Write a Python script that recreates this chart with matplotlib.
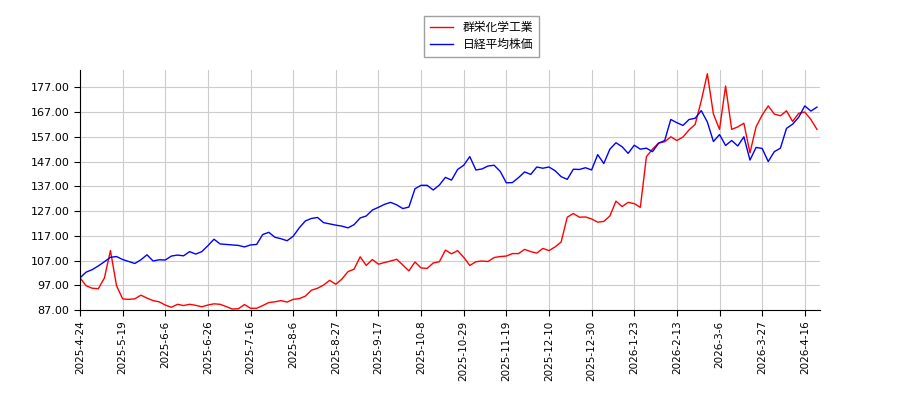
import matplotlib
matplotlib.use("Agg")
import matplotlib.pyplot as plt
import numpy as np

plt.rcParams['font.family'] = ['DejaVu Sans', 'Noto Sans CJK JP']

series_names = ["群栄化学工業", "日経平均株価"]

tick_labels = ["2025-4-24", "2025-5-19", "2025-6-6", "2025-6-26", "2025-7-16",
               "2025-8-6", "2025-8-27", "2025-9-17", "2025-10-8", "2025-10-29",
               "2025-11-19", "2025-12-10", "2025-12-30", "2026-1-23", "2026-2-13",
               "2026-3-6", "2026-3-27", "2026-4-16"]
tick_step = 14      # trading days between labelled ticks
sample_step = 2     # trading days between stored values
n_days = 244

gunei = [100.0, 96.8, 95.8, 95.6, 99.9, 111.0, 96.8, 91.5, 91.3, 91.5,
         93.0, 91.8, 90.8, 90.3, 89.0, 88.1, 89.3, 88.8, 89.3, 88.9,
         88.3, 89.0, 89.5, 89.3, 88.4, 87.4, 87.5, 89.2, 87.7, 87.7,
         88.8, 90.0, 90.3, 90.8, 90.2, 91.3, 91.6, 92.6, 95.0, 95.8,
         97.1, 99.0, 97.4, 99.5, 102.5, 103.5, 108.5, 105.0, 107.4, 105.5,
         106.2, 106.8, 107.5, 105.2, 102.8, 106.4, 104.0, 103.8, 106.0, 106.5,
         111.2, 109.7, 111.0, 108.3, 105.0, 106.5, 106.8, 106.6, 108.2, 108.6,
         108.8, 109.8, 109.8, 111.5, 110.6, 110.0, 111.9, 111.0, 112.5, 114.5,
         124.5, 126.0, 124.5, 124.6, 123.8, 122.5, 122.8, 125.0, 131.0, 128.8,
         130.5, 130.0, 128.5, 149.0, 152.0, 154.5, 155.0, 157.0, 155.5, 156.9,
         159.8, 162.0, 171.5, 182.5, 166.2, 160.0, 177.5, 160.0, 161.0, 162.5,
         150.5, 161.0, 165.8, 169.5, 166.2, 165.5, 167.5, 163.2, 166.5, 167.0,
         164.0, 160.0]

nikkei = [100.0, 102.3, 103.3, 104.8, 106.5, 108.3, 108.6, 107.4, 106.6, 105.8,
          107.3, 109.3, 106.8, 107.3, 107.2, 108.8, 109.2, 108.9, 110.6, 109.6,
          110.6, 113.0, 115.6, 113.7, 113.5, 113.3, 113.1, 112.5, 113.3, 113.5,
          117.5, 118.4, 116.4, 115.8, 115.0, 116.8, 120.2, 123.0, 124.0, 124.4,
          122.3, 121.8, 121.3, 120.9, 120.2, 121.5, 124.2, 125.0, 127.4, 128.5,
          129.7, 130.5, 129.5, 128.0, 128.6, 136.0, 137.4, 137.4, 135.5, 137.5,
          140.6, 139.5, 143.8, 145.5, 149.0, 143.6, 144.0, 145.2, 145.5, 143.0,
          138.4, 138.5, 140.5, 142.8, 141.8, 144.8, 144.3, 144.8, 143.3, 140.9,
          139.8, 143.9, 143.8, 144.5, 143.6, 149.8, 146.2, 152.0, 154.6, 153.0,
          150.3, 153.6, 152.0, 152.4, 151.0, 154.4, 155.5, 164.0, 162.7, 161.6,
          164.0, 164.5, 167.6, 163.0, 155.1, 157.9, 153.5, 155.5, 153.3, 157.0,
          147.6, 152.7, 152.3, 147.0, 151.0, 152.4, 160.4, 162.1, 164.9, 169.5,
          167.4, 169.0]

x = np.arange(len(gunei)) * sample_step

fig = plt.figure(figsize=(9, 4), dpi=100)
ax = fig.add_axes([80/900, 1-310/400, 740/900, 240/400])

ax.plot(x, gunei, color='red', lw=1.0, label=series_names[0])
ax.plot(x, nikkei, color='blue', lw=1.0, label=series_names[1])

ax.set_xlim(0, n_days - 1)
ax.set_ylim(87, 184)
yt = np.arange(87, 178, 10)
ax.set_yticks(yt)
ax.set_yticklabels([f"{v:.2f}" for v in yt], fontsize=8)
ax.set_xticks(np.arange(len(tick_labels)) * tick_step)
ax.set_xticklabels(tick_labels, rotation=90, fontsize=7.5)
ax.grid(True, color='#cccccc', lw=0.8)
ax.set_axisbelow(True)
for s in ['top', 'right']:
    ax.spines[s].set_visible(False)
ax.tick_params(length=4, width=0.8)

fig.legend(loc='upper center', bbox_to_anchor=(0.535, 0.975), fontsize=8.5,
           frameon=True, fancybox=False, edgecolor='#888888', borderpad=0.45,
           labelspacing=0.35)

fig.savefig("out.png", dpi=100)
